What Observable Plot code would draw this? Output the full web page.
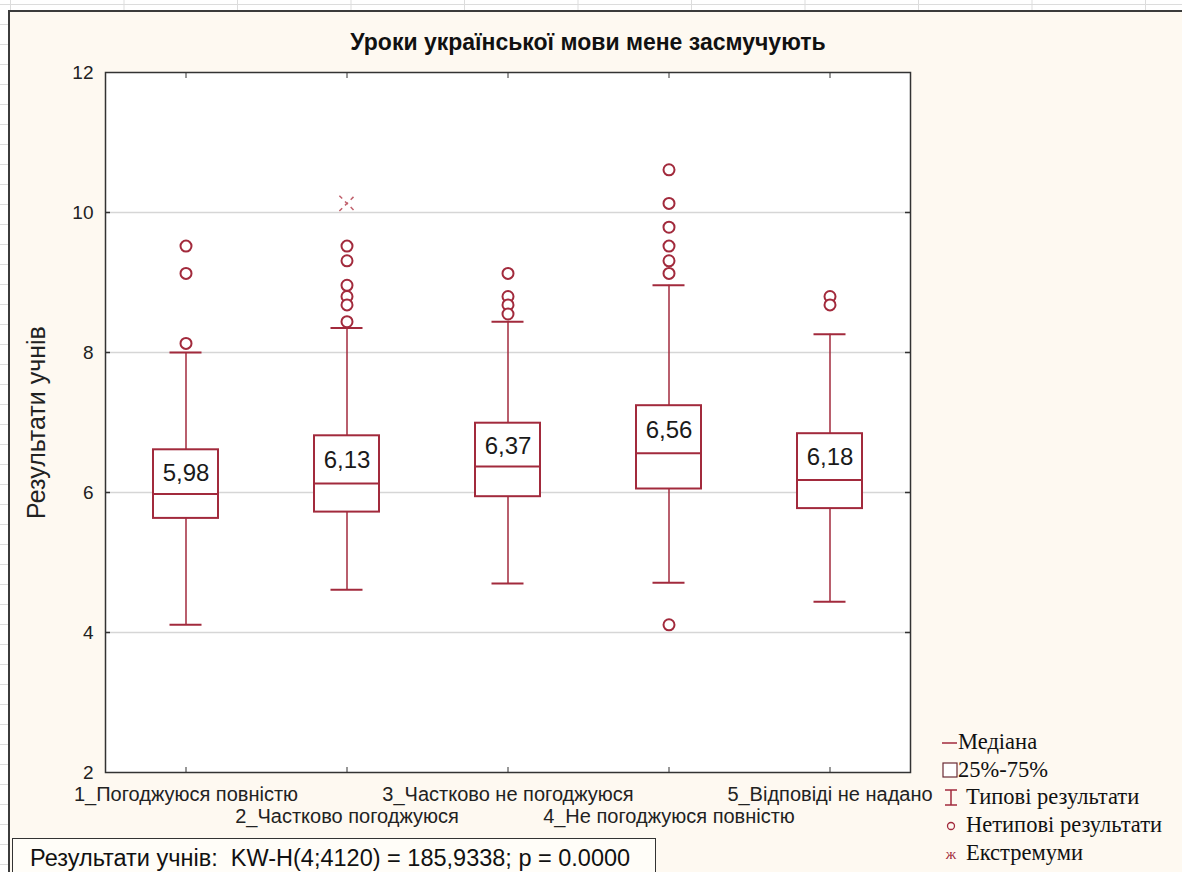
<!DOCTYPE html>
<html>
<head>
<meta charset="utf-8">
<script src="https://cdn.jsdelivr.net/npm/d3@7"></script>
<script src="https://cdn.jsdelivr.net/npm/@observablehq/plot@0.6"></script>
<style>
  html, body { margin: 0; padding: 0; }
  body {
    width: 1182px; height: 872px; overflow: hidden; position: relative;
    background-color: #ffffff;
    background-image:
      linear-gradient(90deg, #dcdcdc 1px, transparent 1px),
      linear-gradient(0deg, #dcdcdc 1px, transparent 1px);
    background-size: 113.5px 100%, 100% 20px;
    background-position: 10px 0, 0 5px;
    font-family: "Liberation Sans", Arial, sans-serif;
  }
  #frame {
    position: absolute; left: 8px; top: 10px; width: 1180px; height: 900px;
    background: #fef9f1; border-top: 2px solid #3c3c3c; border-left: 2px solid #3c3c3c;
    box-sizing: border-box;
  }
  #title {
    position: absolute; left: 0; width: 1156px; top: 17px; text-align: center;
    font: bold 23px "Liberation Sans", Arial, sans-serif; color: #111;
  }
  #chart { position: absolute; left: 10px; top: 12px; }
  #caption {
    position: absolute; left: 12px; top: 838px; width: 644px; height: 50px;
    border: 1.5px solid #333; background: #fffdf8; box-sizing: border-box;
    font: 23.5px "Liberation Sans", Arial, sans-serif; color: #111; padding: 6px 0 0 17px;
    white-space: pre;
  }
  #legend {
    position: absolute; left: 941px; top: 728px;
    font: 22.5px "Liberation Serif", "Times New Roman", serif; color: #111;
  }
  #legend .row { height: 27.8px; display: flex; align-items: center; white-space: nowrap; }
  #legend svg { display: block; }
</style>
</head>
<body>
<div id="frame">
  <div id="title"></div>
</div>
<div id="chart"></div>
<div id="caption"></div>
<div id="legend"></div>
<script>
const chartTitle = "Уроки української мови мене засмучують";
const yLabel = "Результати учнів";
const captionText = "Результати учнів:  KW-H(4;4120) = 185,9338; p = 0.0000";

const categories = [
  "1_Погоджуюся повністю",
  "2_Частково погоджуюся",
  "3_Частково не погоджуюся",
  "4_Не погоджуюся повністю",
  "5_Відповіді не надано"
];
const medians     = [5.98, 6.13, 6.37, 6.56, 6.18];
const q1          = [5.63, 5.72, 5.94, 6.05, 5.77];
const q3          = [6.61, 6.81, 6.99, 7.24, 6.84];
const whiskerLow  = [4.11, 4.61, 4.70, 4.71, 4.44];
const whiskerHigh = [8.00, 8.35, 8.44, 8.96, 8.26];
const outlierCat  = [0, 0, 0, 1, 1, 1, 1, 1, 1, 2, 2, 2, 2, 3, 3, 3, 3, 3, 3, 3, 4, 4];
const outlierVal  = [9.52, 9.13, 8.13, 9.52, 9.31, 8.96, 8.80, 8.68, 8.44, 9.13, 8.80, 8.68, 8.55,
                     10.61, 10.13, 9.79, 9.52, 9.31, 9.13, 4.11, 8.80, 8.68];
const extremeCat  = [1];
const extremeVal  = [10.13];
const yTicks = [2, 4, 6, 8, 10, 12];
const gridTicks = [4, 6, 8, 10];

const legendItems = ["Медіана", "25%-75%", "Типові результати", "Нетипові результати", "Екстремуми"];

const boxes = categories.map((c, i) => ({
  cat: c, med: medians[i], q1: q1[i], q3: q3[i], lo: whiskerLow[i], hi: whiskerHigh[i]
}));
const outliers = outlierCat.map((c, i) => ({cat: categories[c], v: outlierVal[i]}));
const extremes = extremeCat.map((c, i) => ({cat: categories[c], v: extremeVal[i]}));

const RED = "#a22a3c";
const W = 1170, H = 830;
const mL = 95, mR = 270, mT = 60, mB = 70;
const plotW = W - mL - mR;
const band = plotW / categories.length;
const boxW = 65, capW = 32;

document.getElementById("title").textContent = chartTitle;
document.getElementById("caption").textContent = captionText;

const chart = Plot.plot({
  width: W, height: H,
  marginLeft: mL, marginRight: mR, marginTop: mT, marginBottom: mB,
  style: { fontFamily: "'Liberation Sans', Arial, sans-serif", background: "transparent", overflow: "visible" },
  x: { type: "band", domain: categories, padding: 0, axis: null, label: null },
  y: { domain: [2, 12], axis: null, label: null },
  marks: [
    Plot.frame({ fill: "white" }),
    Plot.ruleY(gridTicks, { stroke: "#d6d6d6", strokeWidth: 1.5 }),
    // whiskers
    Plot.ruleX(boxes, { x: "cat", y1: "q3", y2: "hi", stroke: RED, strokeWidth: 1.5 }),
    Plot.ruleX(boxes, { x: "cat", y1: "q1", y2: "lo", stroke: RED, strokeWidth: 1.5 }),
    Plot.tickY(boxes, { x: "cat", y: "hi", stroke: RED, strokeWidth: 2, insetLeft: (band - capW) / 2, insetRight: (band - capW) / 2 }),
    Plot.tickY(boxes, { x: "cat", y: "lo", stroke: RED, strokeWidth: 2, insetLeft: (band - capW) / 2, insetRight: (band - capW) / 2 }),
    // boxes
    Plot.barY(boxes, { x: "cat", y1: "q1", y2: "q3", fill: "white", stroke: RED, strokeWidth: 2,
      insetLeft: (band - boxW) / 2, insetRight: (band - boxW) / 2, insetTop: 0, insetBottom: 0 }),
    Plot.tickY(boxes, { x: "cat", y: "med", stroke: RED, strokeWidth: 2, insetLeft: (band - boxW) / 2, insetRight: (band - boxW) / 2 }),
    Plot.text(boxes, { x: "cat", y: d => (d.med + d.q3) / 2, text: d => d.med.toFixed(2).replace(".", ","),
      fontSize: 24, fill: "#1a1a1a", dy: 1 }),
    // outliers & extremes
    Plot.dot(outliers, { x: "cat", y: "v", r: 5.5, stroke: RED, strokeWidth: 2, fill: "white" }),
    Plot.dot(extremes, { x: "cat", y: "v", r: 7, symbol: "times", stroke: "#c0606c", strokeWidth: 1.5, strokeDasharray: "4 4" }),
    // frame & ticks
    Plot.frame({ stroke: "#333", strokeWidth: 1.5 }),
    Plot.tickY(yTicks.slice(1, -1), { y: d => d, stroke: "#333", strokeWidth: 1.5, insetRight: plotW - 5 }),
    Plot.tickY(yTicks.slice(1, -1), { y: d => d, stroke: "#333", strokeWidth: 1.5, insetLeft: plotW - 5 }),
    Plot.axisX({ anchor: "top", tickSize: -5, tickFormat: () => "", stroke: "#333", label: null }),
    Plot.axisX({ anchor: "bottom", tickSize: -5, tickFormat: () => "", stroke: "#333", label: null }),
    Plot.axisY({ ticks: yTicks, tickSize: 0, tickPadding: 12, fontSize: 19, fill: "#222", label: null }),
    Plot.text([yLabel], { text: d => d, frameAnchor: "left", textAnchor: "middle", rotate: -90, dx: -69, fontSize: 25, fill: "#222" }),
    // category labels in two alternating rows
    Plot.text(categories.filter((c, i) => i % 2 === 0), { x: d => d, frameAnchor: "bottom", dy: 28, fontSize: 20, fill: "#222" }),
    Plot.text(categories.filter((c, i) => i % 2 === 1), { x: d => d, frameAnchor: "bottom", dy: 50, fontSize: 20, fill: "#222" })
  ]
});
document.getElementById("chart").appendChild(chart);

// legend
const sym = [
  `<svg width="17" height="20"><line x1="1" y1="11" x2="16" y2="11" stroke="${RED}" stroke-width="1.5"/></svg>`,
  `<svg width="17" height="20"><rect x="2" y="3" width="14" height="14" fill="white" stroke="#6a2a34" stroke-width="1.2"/></svg>`,
  `<svg width="25" height="20"><line x1="4" y1="3" x2="16" y2="3" stroke="${RED}" stroke-width="1.5"/><line x1="10" y1="3" x2="10" y2="18" stroke="${RED}" stroke-width="1.5"/><line x1="4" y1="18" x2="16" y2="18" stroke="${RED}" stroke-width="1.5"/></svg>`,
  `<svg width="25" height="20"><circle cx="10" cy="11" r="3.5" fill="none" stroke="${RED}" stroke-width="1.3"/></svg>`,
  `<svg width="25" height="20"><text x="10" y="16" text-anchor="middle" font-size="15" fill="${RED}" font-family="Liberation Serif">ж</text></svg>`
];
const leg = document.getElementById("legend");
legendItems.forEach((t, i) => {
  const row = document.createElement("div");
  row.className = "row";
  row.innerHTML = sym[i] + "<span>" + t + "</span>";
  leg.appendChild(row);
});
</script>
</body>
</html>
